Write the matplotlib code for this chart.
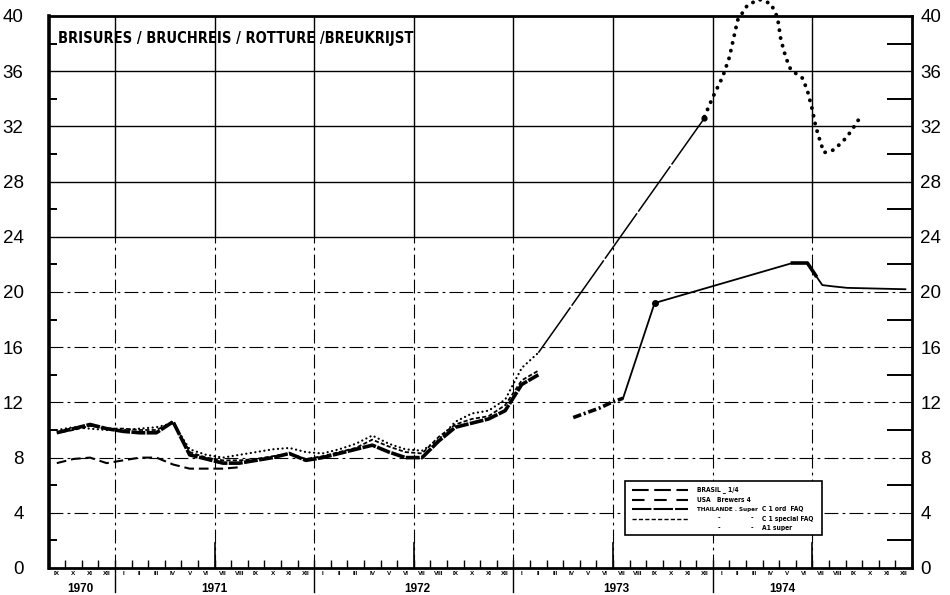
import matplotlib
matplotlib.use("Agg")
import matplotlib.pyplot as plt
from matplotlib.transforms import blended_transform_factory

plt.rcParams['lines.scale_dashes'] = False

# months counted from the start of September 1970 (0) to end of December 1974 (52)
months = ['IX', 'X', 'XI', 'XII'] + ['I', 'II', 'III', 'IV', 'V', 'VI', 'VII', 'VIII', 'IX', 'X', 'XI', 'XII'] * 4
years = ['1970', '1971', '1972', '1973', '1974']
year_x = [1.9, 10.0, 22.2, 34.2, 44.2]

# Thailand Super C1 ordinary FAQ, monthly IX 1970 - II 1973
thai_ord = [9.8, 10.1, 10.4, 10.1, 9.9, 9.8, 9.8, 10.6, 8.2, 7.9, 7.6, 7.6, 7.8, 8.0, 8.3, 7.8,
            8.0, 8.3, 8.6, 8.9, 8.4, 8.0, 8.0, 9.2, 10.2, 10.5, 10.8, 11.4, 13.3, 14.0]
# Thailand C1 special FAQ
thai_spec = [9.8, 10.0, 10.3, 10.1, 10.1, 10.0, 10.0, 10.6, 8.4, 8.0, 7.8, 7.8, 7.9, 8.1, 8.3, 7.9,
             8.1, 8.4, 8.7, 9.3, 8.8, 8.4, 8.3, 9.5, 10.4, 10.8, 11.0, 11.8, 13.6, 14.3]
# Thailand A1 super
a1_super = [10.0, 10.2, 10.1, 10.0, 10.0, 10.1, 10.2, 10.5, 8.6, 8.2, 8.0, 8.2, 8.4, 8.6, 8.7, 8.4,
            8.3, 8.6, 9.0, 9.6, 9.0, 8.6, 8.5, 9.3, 10.6, 11.2, 11.4, 12.2, 14.5, 15.6]
a1_1973_x = [29.5, 39.5]
a1_1973 = [15.6, 32.6]
a1_1974_x = [39.5, 40.0, 40.6, 41.0, 41.5, 42.1, 42.8, 43.5, 43.9, 44.1, 44.4, 44.7, 45.4,
             45.7, 46.0, 46.2, 46.5, 46.7, 47.3, 47.9, 48.3, 48.9]
a1_1974 = [32.7, 34.1, 35.6, 37.0, 39.7, 40.8, 41.2, 40.9, 39.9, 38.3, 37.0, 36.1, 35.5,
           34.6, 33.2, 32.0, 30.8, 30.1, 30.3, 31.0, 31.6, 32.7]

# Brazil 1/4, IX 1970 - VIII 1971
brasil = [7.6, 7.9, 8.0, 7.6, 7.8, 8.0, 8.0, 7.5, 7.2, 7.2, 7.2, 7.3]

# USA Brewers 4, spring 1973
usa_x = [31.6, 33.2, 33.9, 34.6]
usa = [10.9, 11.6, 12.0, 12.3]

# Thailand, VII 1973 - XII 1974
thai_7374_x = [34.6, 36.5, 44.8, 45.7, 46.2, 46.6, 47.3, 48.1, 51.6]
thai_7374 = [12.3, 19.2, 22.1, 22.1, 21.2, 20.5, 20.4, 20.3, 20.2]

mid = [i + 0.5 for i in range(len(months))]

fig = plt.figure(figsize=(9.5, 5.95), dpi=100)
ax = fig.add_axes([48.5 / 950, 1 - 568 / 595, 863.5 / 950, 552 / 595])
ax.set_xlim(0, 52)
ax.set_ylim(0, 40)

# grid: solid in the upper part, dash-dot below 24
for v in [24, 28, 32, 36]:
    ax.axhline(v, color='k', lw=1.0, zorder=1)
for v in [4, 8, 12, 16, 20]:
    ax.axhline(v, color='k', lw=0.8, dashes=(10, 3, 2, 3), zorder=1)
for m in [4, 10, 16, 22, 28, 34, 40, 46]:
    ax.plot([m, m], [24, 40], color='k', lw=1.0, zorder=1)
    ax.plot([m, m], [0, 24], color='k', lw=0.8, dashes=(10, 3, 2, 3), zorder=1)
for m in [10, 22, 34, 46]:
    ax.plot([m, m], [0, 1.8], color='k', lw=1.2, zorder=1)
for m in [4, 16, 28, 40]:
    ax.plot([m, m], [-1.75, 0], color='k', lw=1.0, clip_on=False)

n = len(thai_ord)
ax.plot(mid[:n], thai_ord, color='k', lw=2.6, dashes=(10, 1), zorder=4)
ax.plot(mid[:n], thai_spec, color='k', lw=1.3, dashes=(3, 1.6), zorder=4)
ax.plot(mid[:n], a1_super, color='k', lw=1.6, dashes=(0.1, 3.2), dash_capstyle='round', zorder=4)
ax.plot(a1_1973_x, a1_1973, color='k', lw=1.1, dashes=(40, 1.5), zorder=4)
ax.plot(a1_1973_x[-1:], a1_1973[-1:], 'o', color='k', ms=3.5, zorder=4)
ax.plot(a1_1974_x, a1_1974, color='k', lw=2.8, dashes=(0.1, 5.6), dash_capstyle='round',
        clip_on=False, zorder=4)
ax.plot(mid[:len(brasil)], brasil, color='k', lw=1.5, dashes=(7, 3.5), zorder=4)
ax.plot(usa_x, usa, color='k', lw=2.6, dashes=(6, 2, 1.5, 2), zorder=4)
ax.plot(thai_7374_x, thai_7374, color='k', lw=1.3, zorder=4)
ax.plot(thai_7374_x[1:2], thai_7374[1:2], 'o', color='k', ms=4, zorder=4)
ax.plot(thai_7374_x[2:5], thai_7374[2:5], color='k', lw=2.6, zorder=4)

for s in ax.spines.values():
    s.set_linewidth(2.0)
ax.spines['left'].set_linewidth(2.6)

# x axis: ticks on month boundaries, roman numerals in between
ax.set_xticks(range(0, 53))
ax.set_xticklabels([])
ax.tick_params(axis='x', which='major', direction='in', length=6, width=1.0)
ax.set_xticks(mid, minor=True)
ax.set_xticklabels(months, minor=True, fontsize=4.6, fontweight='bold', family='Liberation Sans')
ax.tick_params(axis='x', which='minor', length=0, pad=2)
tr = blended_transform_factory(ax.transData, ax.transAxes)
for yx, yl in zip(year_x, years):
    ax.text(yx, -0.028, yl, transform=tr, ha='center', va='top', fontsize=8.5,
            fontweight='bold', family='Liberation Sans')

# y axes
yt = list(range(0, 41, 4))
ax.set_yticks(yt)
ax.set_yticklabels([str(v) for v in yt], fontsize=13.5, family='Liberation Sans')
ax.tick_params(axis='y', which='major', length=0, pad=18)
ax.set_yticks(range(2, 40, 4), minor=True)
ax.tick_params(axis='y', which='minor', direction='in', length=6, width=1.4)

ax2 = ax.twinx()
ax2.set_ylim(0, 40)
ax2.set_yticks(yt)
ax2.set_yticklabels([str(v) for v in yt], fontsize=13.5, family='Liberation Sans')
ax2.tick_params(axis='y', which='major', length=0, pad=6)
ax2.set_yticks(range(2, 40, 4), minor=True)
ax2.tick_params(axis='y', which='minor', direction='in', length=18, width=1.4)
for s in ax2.spines.values():
    s.set_visible(False)

ax.text(0.011, 0.972, 'BRISURES / BRUCHREIS / ROTTURE /BREUKRIJST', transform=ax.transAxes,
        ha='left', va='top', fontsize=10.5, fontweight='bold', family='DejaVu Sans',
        fontstretch='condensed')

# legend box
fx = lambda px: (px - 48.5) / 863.5
fy = lambda py: (568 - py) / 552
ax.add_patch(plt.Rectangle((fx(625), fy(535)), fx(822) - fx(625), fy(481) - fy(535),
                           transform=ax.transAxes, fill=True, fc='white', ec='k', lw=1.2, zorder=6))
rows = [490, 499.5, 509, 518.5, 528]
samples = [dict(lw=1.5, dashes=(12, 4)), dict(lw=1.5, dashes=(9, 7)),
           dict(lw=1.5, dashes=(14, 1.5)), dict(lw=1.0, dashes=(3, 1.6)), None]
for r, st in zip(rows, samples):
    if st:
        ax.plot([fx(632), fx(688)], [fy(r), fy(r)], color='k', transform=ax.transAxes,
                zorder=7, **st)
lab = dict(transform=ax.transAxes, fontsize=4.8, fontweight='bold', family='DejaVu Sans',
           fontstretch='condensed', va='center', zorder=7)
ax.text(fx(697), fy(rows[0]), 'BRASIL _ 1/4', **lab)
ax.text(fx(697), fy(rows[1]), 'USA   Brewers 4', **lab)
ax.text(fx(697), fy(rows[2]), 'THAILANDE . Super', fontsize=4.5, **{k: v for k, v in lab.items() if k != 'fontsize'})
for r in rows[3:]:
    ax.text(fx(718), fy(r), '-', **lab)
    ax.text(fx(751), fy(r), '-', **lab)
ax.text(fx(762), fy(rows[2]), 'C 1 ord  FAQ', **lab)
ax.text(fx(762), fy(rows[3]), 'C 1 special FAQ', **lab)
ax.text(fx(762), fy(rows[4]), 'A1 super', **lab)

fig.savefig('out.png', dpi=100)
